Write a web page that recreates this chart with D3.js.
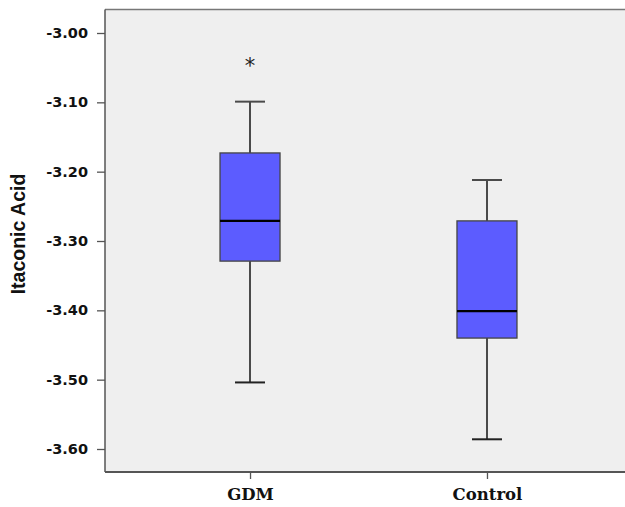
<!DOCTYPE html>
<html><head><meta charset="utf-8">
<script src="https://cdn.jsdelivr.net/npm/d3@7"></script>
<style>body{margin:0;background:#fff}svg{display:block}</style>
</head><body>
<svg id="c" width="625" height="507"></svg>
<script>
const categories = ["GDM", "Control"];
const whiskerLow = [-3.504, -3.586];
const q1 = [-3.329, -3.440];
const medians = [-3.271, -3.401];
const q3 = [-3.173, -3.271];
const whiskerHigh = [-3.099, -3.212];
const outliers = [[-3.043], []];
const yTicks = [-3.00, -3.10, -3.20, -3.30, -3.40, -3.50, -3.60];
const yLabel = "Itaconic Acid";

const svg = d3.select("#c");
const L = 105, T = 9.5, B = 472, R = 632;
const y = d3.scaleLinear().domain([-3.6, -3.0]).range([449, 33]);
const x = d3.scalePoint().domain(categories).range([L, R]).padding(0.612);

svg.append("rect").attr("x", L).attr("y", T).attr("width", R - L).attr("height", B - T)
  .attr("fill", "#efefef");

categories.forEach((c, i) => {
  const cx = x(c), g = svg.append("g");
  const st = "#4a4a4a";
  g.append("line").attr("x1", cx).attr("x2", cx).attr("y1", y(whiskerHigh[i])).attr("y2", y(q3[i])).attr("stroke", st).attr("stroke-width", 2);
  g.append("line").attr("x1", cx).attr("x2", cx).attr("y1", y(q1[i])).attr("y2", y(whiskerLow[i])).attr("stroke", st).attr("stroke-width", 2);
  g.append("line").attr("x1", cx - 15).attr("x2", cx + 15).attr("y1", y(whiskerHigh[i])).attr("y2", y(whiskerHigh[i])).attr("stroke", st).attr("stroke-width", 2);
  g.append("line").attr("x1", cx - 15).attr("x2", cx + 15).attr("y1", y(whiskerLow[i])).attr("y2", y(whiskerLow[i])).attr("stroke", "#222").attr("stroke-width", 2);
  g.append("rect").attr("x", cx - 30).attr("width", 60).attr("y", y(q3[i])).attr("height", y(q1[i]) - y(q3[i]))
    .attr("fill", "#5c5cff").attr("stroke", "#444").attr("stroke-width", 1.3);
  g.append("line").attr("x1", cx - 30).attr("x2", cx + 30).attr("y1", y(medians[i])).attr("y2", y(medians[i])).attr("stroke", "#000").attr("stroke-width", 2.2);
  outliers[i].forEach(v => {
    g.append("text").attr("x", cx).attr("y", y(v) + 10).attr("text-anchor", "middle")
      .attr("font-family", "DejaVu Sans").attr("font-size", 21).attr("fill", "#222").text("*");
  });
});

svg.append("line").attr("x1", L).attr("x2", R).attr("y1", T).attr("y2", T).attr("stroke", "#777").attr("stroke-width", 1.5);
svg.append("line").attr("x1", L).attr("x2", L).attr("y1", T).attr("y2", B).attr("stroke", "#555").attr("stroke-width", 1.5);
svg.append("line").attr("x1", L).attr("x2", R).attr("y1", B).attr("y2", B).attr("stroke", "#555").attr("stroke-width", 2);

const ya = svg.append("g").attr("transform", `translate(${L},0)`)
  .call(d3.axisLeft(y).tickValues(yTicks).tickSize(8).tickPadding(9)
    .tickFormat(d => d3.format(".2f")(d).replace("\u2212", "-")));
ya.select(".domain").remove();
ya.selectAll(".tick line").attr("stroke", "#555").attr("stroke-width", 1.3);
ya.selectAll(".tick text").attr("font-family", "DejaVu Sans").attr("font-weight", "bold").attr("font-size", 14.5).attr("fill", "#111");

const xa = svg.append("g").attr("transform", `translate(0,${B})`)
  .call(d3.axisBottom(x).tickSize(7).tickPadding(9));
xa.select(".domain").remove();
xa.selectAll(".tick line").attr("stroke", "#555").attr("stroke-width", 1.3);
xa.selectAll(".tick text").attr("font-family", "DejaVu Serif").attr("font-weight", "bold").attr("font-size", 16.5).attr("fill", "#111");

svg.append("text").attr("transform", `translate(25,234) rotate(-90)`).attr("text-anchor", "middle")
  .attr("font-family", "Liberation Sans").attr("font-weight", "bold").attr("font-size", 19.5).attr("fill", "#111").text(yLabel);
</script>
</body></html>
